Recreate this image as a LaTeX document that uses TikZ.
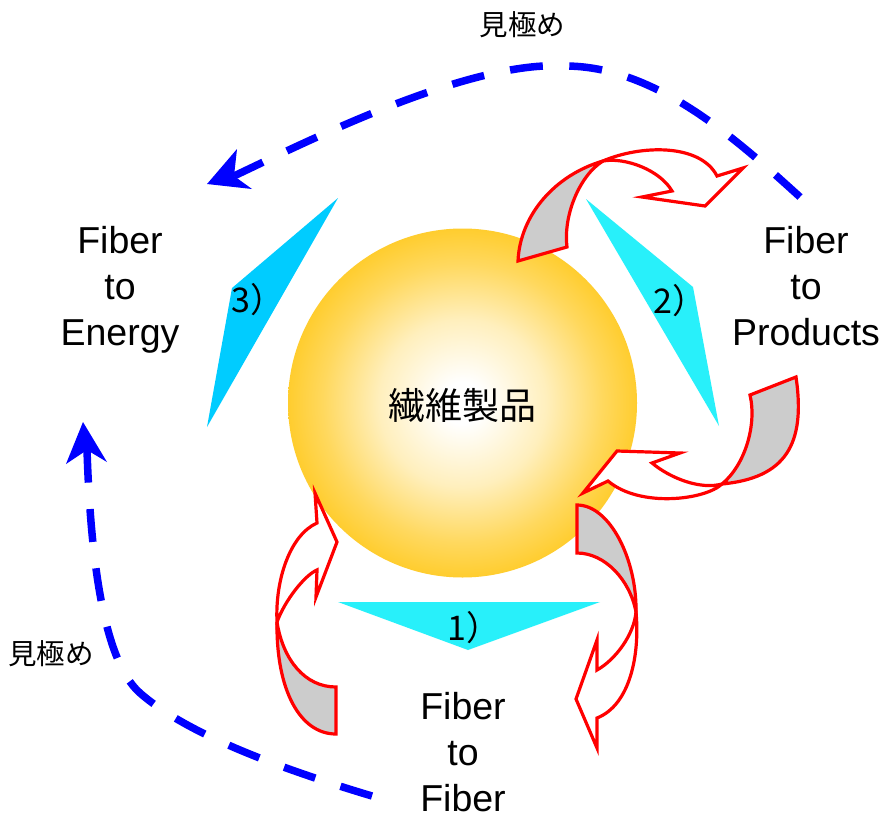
\documentclass[tikz,border=0pt]{standalone}
\usepackage{fontspec}
\setmainfont{Liberation Sans}
\newfontfamily\jp{Noto Sans CJK JP}
\definecolor{gold}{RGB}{255,198,18}
\definecolor{cyanA}{RGB}{40,240,250}
\definecolor{cyanB}{RGB}{0,204,255}
\definecolor{grayback}{RGB}{204,204,204}
\pgfdeclareradialshading{sphereshade}{\pgfpoint{0bp}{0bp}}{color(0bp)=(white); color(3bp)=(white); color(12bp)=(gold!28!white); color(20bp)=(gold!68!white); color(28bp)=(gold); color(50bp)=(gold)}
\begin{document}
\begin{tikzpicture}[x=1pt,y=-1pt,
  redarrow/.style={draw=red, line width=3.2pt, line join=miter, miter limit=10},
  backface/.style={redarrow, fill=grayback},
  frontface/.style={redarrow, fill=white},
  bluedash/.style={draw=blue, line width=7.5pt, dash pattern=on 33pt off 26.5pt},
  bluehead/.style={fill=blue, draw=none},
  lbl/.style={font=\fontsize{37.5}{46}\selectfont, align=center, inner sep=0pt, anchor=north},
  jlbl/.style={font=\jp\fontsize{28.5}{34}\selectfont, inner sep=0pt},
  numlbl/.style={font=\jp\fontsize{34}{40}\selectfont, inner sep=0pt, anchor=base west}]
\useasboundingbox (0,0) rectangle (885,816);
\fill[white] (0,0) rectangle (885,816);

% central sphere
\shade[shading=sphereshade] (462.5,403) circle[radius=174.5];
\node[font=\jp\fontsize{37}{42}\selectfont, inner sep=0pt] (core) at (462,405) {繊維製品};

% triangles
\fill[cyanA] (338,602) -- (600,602) -- (468,650) -- cycle;
\fill[cyanA] (586,199) -- (693,287) -- (719,426) -- cycle;
\fill[cyanB] (338,198) -- (232,288) -- (207,427) -- cycle;
\node[numlbl] (n1) at (447,640) {1）};
\node[numlbl] (n2) at (653,313) {2）};
\node[numlbl] (n3) at (231,312) {3）};

% curved arrow A (top right)
\filldraw[backface] (518,261) .. controls (520,215) and (555,175) .. (603,161)
  .. controls (580,175) and (563,215) .. (567,247) -- cycle;
\filldraw[frontface] (603,161) .. controls (640,145) and (700,143) .. (717,176)
  -- (743,168) -- (705,206) -- (642,197) -- (672,191)
  .. controls (660,170) and (625,157) .. (603,161) -- cycle;

% curved arrow B (right)
\filldraw[backface] (796,377) .. controls (806,445) and (785,478) .. (722,484)
  .. controls (745,465) and (757,425) .. (750,395) -- cycle;
\filldraw[frontface] (722,484) .. controls (705,500) and (640,508) .. (608,481)
  -- (583,493) -- (617,451) -- (680,453) -- (652,463)
  .. controls (670,478) and (700,490) .. (722,484) -- cycle;

% curved arrow C (bottom right)
\filldraw[backface] (577,505) .. controls (610,505) and (637,560) .. (636,612)
  .. controls (630,580) and (605,553) .. (577,553) -- cycle;
\filldraw[frontface] (636,612) .. controls (640,655) and (630,705) .. (597,718)
  -- (597,748) -- (576,699) -- (597,640) -- (597,670)
  .. controls (615,660) and (634,635) .. (636,612) -- cycle;

% curved arrow D (bottom left)
\filldraw[backface] (336,734) .. controls (300,734) and (276,690) .. (277,622)
  .. controls (283,660) and (305,687) .. (336,687) -- cycle;
\filldraw[frontface] (277,622) .. controls (275,580) and (290,535) .. (317,523)
  -- (315,493) -- (337,542) -- (316,597) -- (317,570)
  .. controls (305,575) and (285,600) .. (277,622) -- cycle;

% labels
\node[lbl] (energy) at (120,226) {Fiber\\to\\Energy};
\node[lbl] (products) at (806,226) {Fiber\\to\\Products};
\node[lbl] (fiber) at (463,692) {Fiber\\to\\Fiber};
\node[jlbl] (mk1) at (522.5,24.5) {見極め};
\node[jlbl] (mk2) at (51,654) {見極め};

% blue dashed arrows
\coordinate (ts) at (800,197);
\coordinate (te) at (234,176);
\draw[bluedash] (ts) .. controls (735,138) and (655,66) .. (565,66)
  .. controls (470,60) and (310,140) .. (te);
\fill[bluehead] (207,184) -- (237,149) -- (te) -- (252,189) -- cycle;

\coordinate (bs) at (372,796);
\coordinate (be) at (87,450);
\draw[bluedash] (bs) .. controls (292,772) and (190,737) .. (140,693)
  .. controls (100,658) and (90,540) .. (be);
\fill[bluehead] (83,422) -- (107,462) -- (be) -- (66,464) -- cycle;
\end{tikzpicture}
\end{document}
